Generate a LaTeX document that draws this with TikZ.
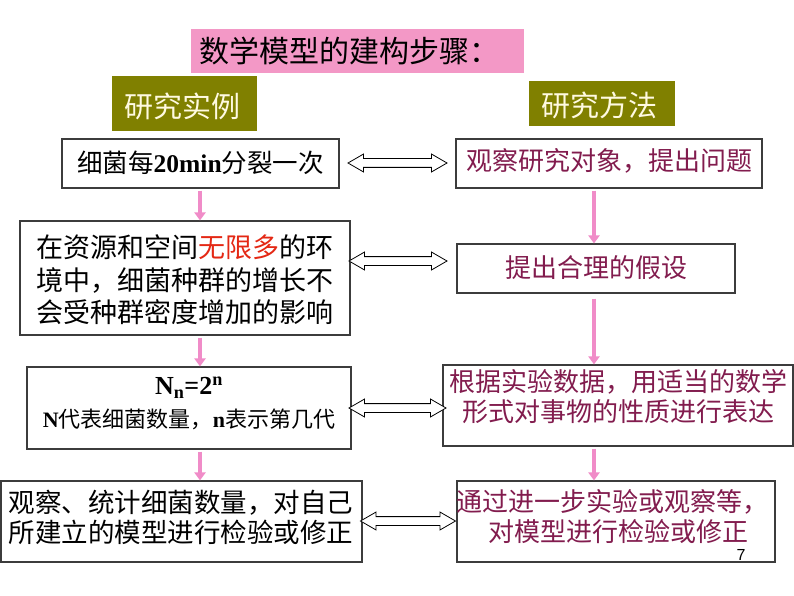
\documentclass[tikz,border=0pt]{standalone}
\usepackage{fontspec}
\setmainfont{Noto Sans CJK SC}
\newfontfamily\tnr{Liberation Serif}
\newfontfamily\arialf{Liberation Sans}
\usetikzlibrary{shapes.arrows,arrows.meta,calc}
\definecolor{titlepink}{RGB}{243,152,198}
\definecolor{olivebg}{RGB}{128,128,0}
\definecolor{cream}{RGB}{255,250,225}
\definecolor{methodtxt}{RGB}{130,28,78}
\definecolor{flowpink}{RGB}{240,140,200}
\definecolor{hotred}{RGB}{228,40,20}
\definecolor{boxline}{RGB}{60,60,60}
\begin{document}
\begin{tikzpicture}[x=1pt,y=-1pt,
  box/.style={draw=boxline, line width=1.1pt, fill=white, inner sep=0pt},
  txt/.style={inner sep=0pt, align=center},
  blacktxt/.style={txt, text=black},
  methtxt/.style={txt, text=methodtxt},
  flow/.style={draw=flowpink, line width=4pt, -{Triangle[width=11pt,length=8pt]}, shorten <=2pt},
  dblarrow/.style={double arrow, draw=black, line width=0.8pt, fill=white, inner xsep=0pt, inner ysep=4pt,
    minimum width=17pt, double arrow head extend=4.5pt, double arrow tip angle=60},
]
\useasboundingbox (0,0) rectangle (794,596);
\fill[white] (0,0) rectangle (794,596);

% title
\node[fill=titlepink, minimum width=333pt, minimum height=44pt, inner sep=0pt] (title) at (357.5,51) {};
\node[txt, anchor=west, font=\fontsize{30}{30}\selectfont] (titletxt) at (199,51) {数学模型的建构步骤：};

% headers
\node[fill=olivebg, minimum width=145pt, minimum height=55pt, inner sep=0pt] (hl) at (184.5,103.5) {};
\node[txt, text=cream, font=\fontsize{29}{29}\selectfont] (hltxt) at (182,106) {研究实例};
\node[fill=olivebg, minimum width=146pt, minimum height=45pt, inner sep=0pt] (hr) at (602,103.5) {};
\node[txt, text=cream, font=\fontsize{29}{29}\selectfont] (hrtxt) at (599,105) {研究方法};

% left column
\node[box, minimum width=277pt, minimum height=49pt] (L1) at (200.5,163.5) {};
\node[blacktxt, font=\fontsize{25.5}{25.5}\selectfont] (L1t) at (200.5,163) {细菌每{\tnr\bfseries 20min}分裂一次};

\node[box, minimum width=330pt, minimum height=114pt] (L2) at (185,278) {};
\node[blacktxt, font=\fontsize{27}{32.5}\selectfont] (L2t) at (185,280) {在资源和空间{\color{hotred}无限多}的环\\境中，细菌种群的增长不\\会受种群密度增加的影响};

\node[box, minimum width=324pt, minimum height=82pt] (L3) at (189,408) {};
\node[blacktxt, font=\fontsize{26}{26}\selectfont] (L3a) at (189,388) {\tnr\bfseries N\textsubscript{n}=2\textsuperscript{n}};
\node[blacktxt, font=\fontsize{22}{22}\selectfont] (L3b) at (189,419) {{\tnr\bfseries N}代表细菌数量，{\tnr\bfseries n}表示第几代};

\node[box, minimum width=361pt, minimum height=81pt] (L4) at (181.5,521.5) {};
\node[blacktxt, font=\fontsize{26.5}{30}\selectfont] (L4t) at (181,517) {观察、统计细菌数量，对自己\\所建立的模型进行检验或修正};

% right column
\node[box, minimum width=306pt, minimum height=49pt] (R1) at (609,163.5) {};
\node[methtxt, font=\fontsize{26}{26}\selectfont] (R1t) at (609,161) {观察研究对象，提出问题};

\node[box, minimum width=278pt, minimum height=49pt] (R2) at (596,268.5) {};
\node[methtxt, font=\fontsize{26}{26}\selectfont] (R2t) at (596,268) {提出合理的假设};

\node[box, minimum width=350pt, minimum height=81pt] (R3) at (618,405.5) {};
\node[methtxt, font=\fontsize{26}{30}\selectfont] (R3t) at (618,397) {根据实验数据，用适当的数学\\形式对事物的性质进行表达};

\node[box, minimum width=318pt, minimum height=81pt] (R4) at (616,521.5) {};
\node[methtxt, font=\fontsize{26}{30}\selectfont] (R4t) at (612,517) {通过进一步实验或观察等，\\\hspace*{12pt}对模型进行检验或修正};
\node[txt, font=\arialf\fontsize{16}{16}\selectfont] (pg) at (741,555) {7};

% double arrows
\node[dblarrow, minimum height=99pt] (A1) at (397.5,163) {};
\node[dblarrow, minimum height=98pt] (A2) at (398,261) {};
\node[dblarrow, minimum height=97pt] (A3) at (397.5,408) {};
\node[dblarrow, minimum height=95pt] (A4) at (408,521) {};

% pink flow arrows
\coordinate (lx) at (200,0);
\coordinate (rx) at (594,0);
\draw[flow] (lx |- L1.south) -- (lx |- L2.north);
\draw[flow] (lx |- L2.south) -- (lx |- L3.north);
\draw[flow] (lx |- L3.south) -- (lx |- L4.north);
\draw[flow] (rx |- R1.south) -- (rx |- R2.north);
\draw[flow, shorten <=5pt] (rx |- R2.south) -- (rx |- R3.north);
\draw[flow] (rx |- R3.south) -- (rx |- R4.north);
\end{tikzpicture}
\end{document}
